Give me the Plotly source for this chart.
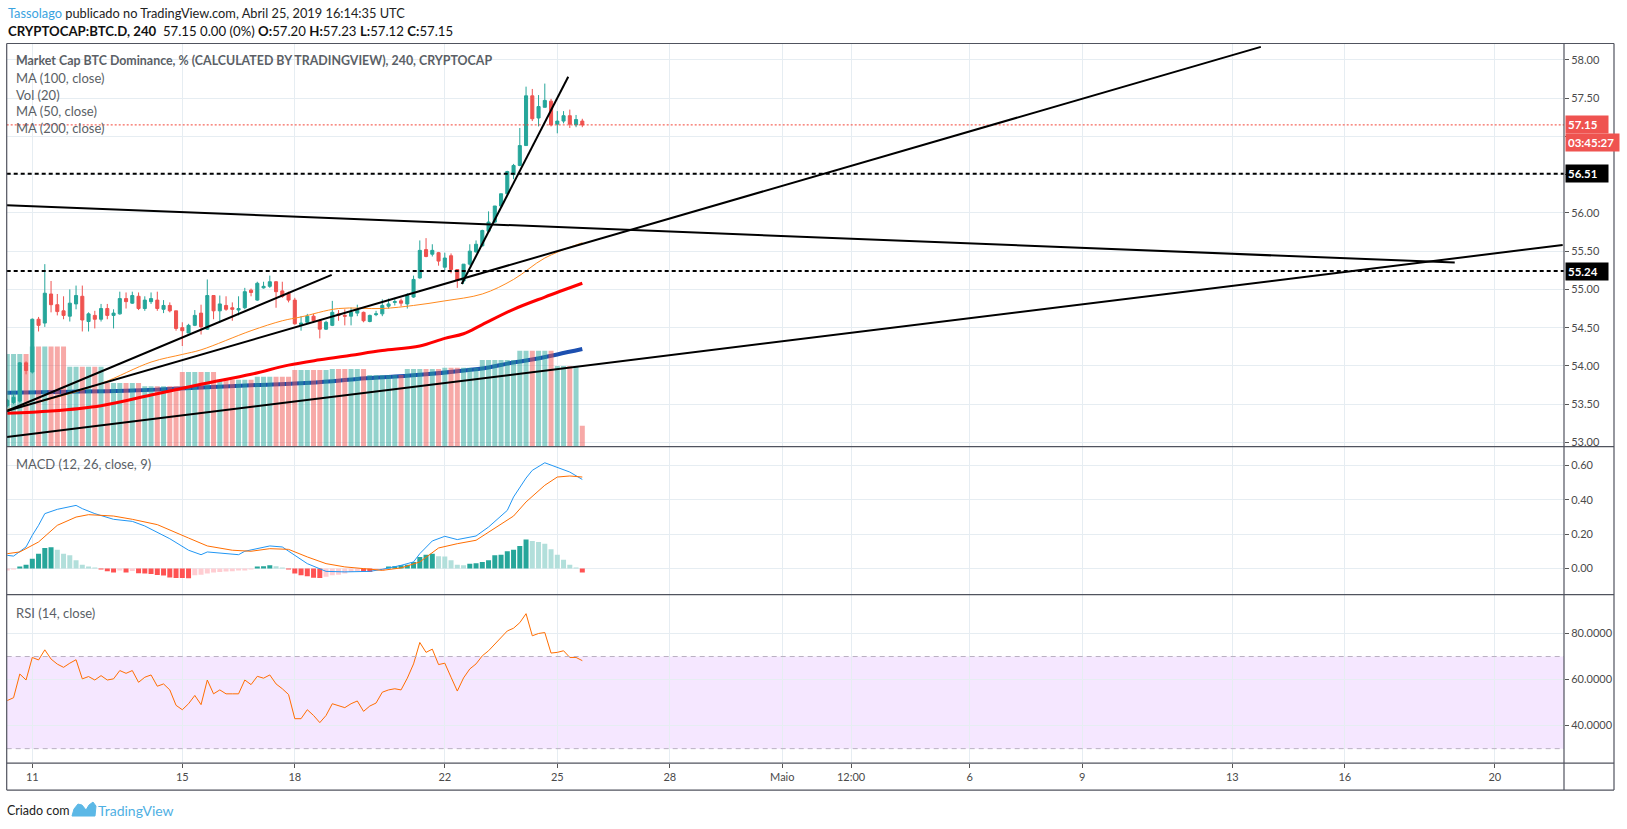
import plotly.graph_objects as go
import pandas as pd

# 4h candles of CRYPTOCAP:BTC.D, first bar 2019-04-10 08:00 UTC
first_bar = "2019-04-10 08:00"
opens = [53.48, 53.52, 53.54, 54.04, 53.92, 54.61, 54.56, 54.94, 54.80, 54.72,
         54.65, 54.81, 54.91, 54.58, 54.66, 54.61, 54.75, 54.66, 54.68, 54.88,
         54.82, 54.91, 54.75, 54.84, 54.86, 54.74, 54.79, 54.72, 54.50, 54.43,
         54.53, 54.69, 54.48, 54.92, 54.72, 54.79, 54.76, 54.73, 54.76, 54.99,
         54.86, 55.02, 55.04, 55.10, 54.98, 54.95, 54.86, 54.54, 54.57, 54.65,
         54.59, 54.48, 54.53, 54.68, 54.66, 54.65, 54.69, 54.70, 54.58, 54.67,
         54.68, 54.78, 54.83, 54.85, 54.81, 54.90, 55.15, 55.52, 55.46, 55.48,
         55.29, 55.44, 55.26, 55.11, 55.33, 55.49, 55.57, 55.76, 55.88, 56.09,
         56.25, 56.50, 56.62, 56.88, 57.53, 57.24, 57.38, 57.46, 57.16, 57.20,
         57.27, 57.15, 57.20]
highs = [53.57, 53.63, 54.05, 54.06, 54.62, 54.64, 55.33, 55.11, 54.94, 54.91,
         55.00, 55.05, 55.05, 54.70, 54.72, 54.81, 54.81, 54.74, 54.97, 54.96,
         54.97, 54.96, 54.91, 54.96, 54.97, 54.86, 54.83, 54.72, 54.57, 54.55,
         54.73, 54.80, 55.13, 54.92, 54.92, 54.91, 54.83, 54.91, 55.02, 55.01,
         55.10, 55.10, 55.18, 55.11, 55.10, 54.97, 54.89, 54.65, 54.68, 54.68,
         54.61, 54.59, 54.85, 54.73, 54.74, 54.76, 54.80, 54.71, 54.67, 54.72,
         54.87, 54.88, 54.89, 54.88, 54.95, 55.18, 55.64, 55.67, 55.59, 55.49,
         55.48, 55.47, 55.26, 55.33, 55.59, 55.64, 55.78, 56.02, 56.09, 56.25,
         56.55, 56.64, 57.11, 57.65, 57.62, 57.54, 57.69, 57.49, 57.33, 57.33,
         57.35, 57.28, 57.23]
lows = [53.46, 53.50, 53.52, 53.89, 53.90, 54.45, 54.51, 54.70, 54.66, 54.61,
        54.58, 54.74, 54.45, 54.45, 54.49, 54.58, 54.61, 54.49, 54.67, 54.75,
        54.81, 54.73, 54.72, 54.81, 54.72, 54.69, 54.70, 54.46, 54.26, 54.43,
        54.52, 54.41, 54.47, 54.61, 54.57, 54.72, 54.59, 54.66, 54.74, 54.91,
        54.85, 55.01, 55.02, 54.76, 54.89, 54.83, 54.54, 54.46, 54.55, 54.56,
        54.36, 54.47, 54.52, 54.59, 54.53, 54.53, 54.65, 54.57, 54.57, 54.65,
        54.65, 54.75, 54.79, 54.78, 54.75, 54.89, 55.14, 55.42, 55.43, 55.31,
        55.25, 55.21, 55.02, 55.07, 55.31, 55.48, 55.56, 55.76, 55.87, 56.08,
        56.24, 56.44, 56.61, 56.88, 57.20, 57.13, 57.38, 57.13, 57.04, 57.17,
        57.11, 57.12, 57.12]
closes = [53.55, 53.59, 54.04, 53.94, 54.61, 54.53, 54.95, 54.80, 54.71, 54.66,
          54.82, 54.92, 54.60, 54.68, 54.61, 54.75, 54.66, 54.69, 54.88, 54.84,
          54.92, 54.75, 54.86, 54.88, 54.75, 54.79, 54.72, 54.49, 54.46, 54.53,
          54.66, 54.51, 54.92, 54.72, 54.81, 54.74, 54.74, 54.75, 54.97, 54.96,
          55.08, 55.04, 55.10, 54.97, 54.91, 54.86, 54.55, 54.56, 54.65, 54.59,
          54.48, 54.57, 54.70, 54.66, 54.65, 54.70, 54.73, 54.59, 54.66, 54.68,
          54.79, 54.81, 54.84, 54.82, 54.92, 55.13, 55.51, 55.43, 55.51, 55.37,
          55.41, 55.26, 55.12, 55.33, 55.50, 55.59, 55.77, 55.88, 56.09, 56.25,
          56.54, 56.62, 56.88, 57.53, 57.23, 57.39, 57.47, 57.15, 57.20, 57.27,
          57.16, 57.22, 57.15]
volumes = [9.27, 9.27, 9.27, 9.27,
           10.04, 10.04, 10.04, 10.04, 10.04, 10.04,
           8.00, 8.00, 8.00, 8.00, 8.00, 8.00,
           6.37, 6.37, 6.37, 6.37, 6.37, 6.37,
           6.04, 6.04, 6.04, 6.04, 6.04, 6.04,
           7.47, 7.47, 7.47, 7.47, 7.47, 7.47,
           6.70, 6.70, 6.70, 6.70, 6.70, 6.70,
           7.00, 7.00, 7.00, 7.00, 7.00, 7.00,
           7.67, 7.67, 7.67, 7.67, 7.67, 7.67,
           7.77, 7.77, 7.77, 7.77, 7.77, 7.77,
           7.17, 7.17, 7.17, 7.17, 7.17, 7.17,
           7.77, 7.77, 7.77, 7.77, 7.77, 7.77,
           7.90, 7.90, 7.90, 7.90, 7.90, 7.90,
           8.67, 8.67, 8.67, 8.67, 8.67, 8.67,
           9.60, 9.60, 9.60, 9.60, 9.60, 9.60,
           8.07, 8.07, 8.07, 8.07,
           2.10]

# moving averages read at a few bars (bar index, value)
ma50_bar = [0, 7, 15, 23, 28, 31, 39, 44, 47, 53, 60, 65, 70, 76, 81, 86, 92]
ma50_val = [53.43, 53.57, 53.77, 54.05, 54.15, 54.21, 54.46, 54.59, 54.64, 54.75,
            54.75, 54.79, 54.85, 54.94, 55.13, 55.41, 55.61]
ma100_bar = [0, 7, 15, 23, 31, 39, 45, 50, 55, 60, 66, 70, 73, 76, 81, 86, 92]
ma100_val = [53.38, 53.41, 53.48, 53.62, 53.76, 53.89, 54.01, 54.08, 54.14, 54.20,
             54.26, 54.36, 54.42, 54.54, 54.74, 54.90, 55.08]
ma200_bar = [0, 8, 16, 24, 32, 40, 46, 52, 56, 62, 67, 72, 77, 80, 83, 88, 92]
ma200_val = [53.65, 53.66, 53.67, 53.69, 53.72, 53.75, 53.77, 53.80, 53.83, 53.86,
             53.89, 53.93, 53.98, 54.03, 54.07, 54.15, 54.22]

# MACD (12, 26, close, 9)
macd_bar = [0, 1, 3, 4, 5, 6, 8, 9, 11, 12, 14, 17, 20, 22, 24, 26, 29, 31, 32, 37,
            38, 42, 44, 47, 48, 51, 54, 58, 60, 63, 65, 66, 68, 70, 72, 75, 77, 80,
            81, 83, 84, 86, 88, 90, 92]
macd_val = [0.077, 0.073, 0.126, 0.194, 0.252, 0.320, 0.345, 0.353, 0.368, 0.349,
            0.320, 0.287, 0.275, 0.248, 0.213, 0.174, 0.107, 0.081, 0.097, 0.081,
            0.101, 0.132, 0.126, 0.054, 0.029, -0.016, -0.019, -0.016, -0.004, 0.019,
            0.039, 0.087, 0.161, 0.188, 0.169, 0.190, 0.242, 0.339, 0.417, 0.527,
            0.572, 0.616, 0.591, 0.562, 0.519]
signal_bar = [0, 2, 5, 8, 11, 13, 17, 20, 24, 26, 29, 32, 36, 39, 42, 45, 48, 51, 54,
              57, 60, 63, 66, 69, 72, 75, 78, 81, 83, 86, 88, 90, 92]
signal_val = [0.087, 0.097, 0.155, 0.252, 0.300, 0.314, 0.306, 0.287, 0.256, 0.223,
              0.178, 0.132, 0.107, 0.101, 0.116, 0.112, 0.068, 0.029, 0.010, 0.000,
              -0.010, 0.004, 0.039, 0.120, 0.145, 0.165, 0.233, 0.306, 0.388, 0.485,
              0.533, 0.539, 0.533]
hist_val = [-0.010, -0.005, 0.012, 0.023, 0.058, 0.087, 0.120, 0.124, 0.110, 0.087,
            0.078, 0.048, 0.023, 0.010, 0.003, -0.004, -0.016, -0.023, -0.010, -0.023,
            -0.014, -0.027, -0.029, -0.031, -0.037, -0.040, -0.052, -0.054, -0.055, -0.056,
            -0.039, -0.035, -0.029, -0.023, -0.019, -0.017, -0.016, -0.010, -0.006, -0.003,
            0.010, 0.014, 0.019, 0.014, 0.002, -0.004, -0.029, -0.039, -0.045, -0.053,
            -0.055, -0.048, -0.039, -0.035, -0.029, -0.019, -0.016, -0.019, -0.020, -0.010,
            -0.006, 0.010, 0.014, 0.019, 0.023, 0.039, 0.068, 0.081, 0.087, 0.072,
            0.070, 0.048, 0.023, 0.019, 0.029, 0.031, 0.039, 0.048, 0.078, 0.081,
            0.101, 0.110, 0.132, 0.169, 0.161, 0.155, 0.145, 0.112, 0.081, 0.052,
            0.023, 0.002, -0.023]

# RSI (14, close)
rsi_val = [50.9, 52.1, 62.4, 59.8, 69.6, 68.5, 72.9, 68.9, 66.7, 65.3,
           67.1, 68.6, 60.3, 61.3, 59.8, 61.7, 59.8, 60.3, 63.9, 62.7,
           63.9, 58.8, 61.0, 62.0, 57.1, 58.1, 55.5, 48.8, 46.9, 49.5,
           53.1, 49.1, 59.8, 53.8, 55.5, 53.8, 53.8, 53.8, 59.8, 57.8,
           61.4, 60.6, 62.0, 58.1, 56.0, 53.5, 43.0, 43.0, 46.9, 44.4,
           41.3, 44.4, 49.5, 48.5, 47.8, 49.5, 50.7, 46.2, 48.5, 49.8,
           54.5, 55.5, 56.0, 55.5, 60.6, 66.8, 76.1, 71.8, 73.2, 66.5,
           67.1, 61.0, 55.0, 60.7, 64.6, 66.8, 70.3, 72.5, 75.4, 78.3,
           81.1, 82.3, 84.7, 88.6, 79.0, 80.0, 80.4, 71.5, 71.8, 72.5,
           69.6, 69.6, 68.2]

# drawn trend lines: (start time, start price, end time, end price)
trend_lines = [
    ("2019-04-10 07:40", 53.07, "2019-05-21 19:26", 55.58),
    ("2019-04-10 07:40", 56.10, "2019-05-18 22:20", 55.35),
    ("2019-04-22 10:48", 55.07, "2019-04-25 07:00", 57.78),
    ("2019-04-10 07:40", 53.41, "2019-04-18 23:36", 55.19),
    ("2019-04-10 07:40", 53.41, "2019-05-13 18:15", 58.17),
]
level_lines = [56.51, 55.24]
last_price = 57.15
countdown = "03:45:27"

price_ticks = [53.0, 53.5, 54.0, 54.5, 55.0, 55.5, 56.0, 56.5, 57.0, 57.5, 58.0]
hidden_ticks = [56.5, 57.0]  # covered by the price tags
macd_ticks = [0.0, 0.2, 0.4, 0.6]
rsi_ticks = [40, 60, 80]
date_ticks = ["2019-04-11", "2019-04-15", "2019-04-18", "2019-04-22", "2019-04-25",
              "2019-04-28", "2019-05-01", "2019-05-02 20:00", "2019-05-06", "2019-05-09",
              "2019-05-13", "2019-05-16", "2019-05-20"]
date_labels = ["11", "15", "18", "22", "25", "28", "Maio", "12:00", "6", "9", "13", "16", "20"]

UP, DOWN = "#26a69a", "#ef5350"
W, H = 1627, 829
FONT = "Lato"


def px(x):
    return x / W


def py(y):
    return 1 - y / H


t0 = pd.Timestamp(first_bar)
times = [t0 + pd.Timedelta(hours=4 * i) for i in range(len(closes))]


def bar_time(idx):
    return [t0 + pd.Timedelta(hours=4 * i) for i in idx]


vol_colors = ["rgba(38,166,154,0.5)" if c >= o else "rgba(239,83,80,0.5)"
              for o, c in zip(opens, closes)]
hist_colors = []
for k, h in enumerate(hist_val):
    prev = hist_val[k - 1] if k else h
    if h >= 0:
        hist_colors.append("#26a69a" if h > prev else "#b2dfdb")
    else:
        hist_colors.append("#ff5252" if h < prev else "#ffcdd2")

fig = go.Figure()

# MA 200 sits under the volume columns
fig.add_trace(go.Scatter(x=bar_time(ma200_bar), y=ma200_val, mode="lines",
                         line=dict(color="#1c4fb0", width=4, shape="spline"),
                         yaxis="y", xaxis="x"))
fig.add_trace(go.Bar(x=times, y=volumes, marker_color=vol_colors, marker_line_width=0,
                     yaxis="y2", xaxis="x"))
fig.add_trace(go.Candlestick(x=times, open=opens, high=highs, low=lows, close=closes,
                             increasing=dict(line=dict(color=UP, width=1), fillcolor=UP),
                             decreasing=dict(line=dict(color=DOWN, width=1), fillcolor=DOWN),
                             whiskerwidth=0, yaxis="y3", xaxis="x"))
fig.add_trace(go.Scatter(x=bar_time(ma100_bar), y=ma100_val, mode="lines",
                         line=dict(color="#ff0000", width=3, shape="spline"),
                         yaxis="y3", xaxis="x"))
fig.add_trace(go.Scatter(x=bar_time(ma50_bar), y=ma50_val, mode="lines",
                         line=dict(color="#ff8a1f", width=1, shape="spline"),
                         yaxis="y3", xaxis="x"))

# MACD panel
fig.add_trace(go.Bar(x=times, y=hist_val, marker_color=hist_colors, marker_line_width=0,
                     yaxis="y4", xaxis="x"))
fig.add_trace(go.Scatter(x=bar_time(macd_bar), y=macd_val, mode="lines",
                         line=dict(color="#2196f3", width=1), yaxis="y4", xaxis="x"))
fig.add_trace(go.Scatter(x=bar_time(signal_bar), y=signal_val, mode="lines",
                         line=dict(color="#ff6d00", width=1), yaxis="y4", xaxis="x"))

# RSI panel
fig.add_trace(go.Scatter(x=times, y=rsi_val, mode="lines",
                         line=dict(color="#ff6d00", width=1), yaxis="y5", xaxis="x"))

grid = "#e6edf2"
tickfont = dict(family=FONT, size=11, color="#4a4a4a")
price_range = [52.945, 58.214]
x_dom = [px(6.7), px(1564)]
main_dom = [py(447.7), py(43.6)]
macd_dom = [py(596), py(447.7)]
rsi_dom = [py(765), py(596)]

yax_common = dict(side="right", anchor="x", ticks="outside", ticklen=4, tickcolor="#555",
                  showgrid=True, gridcolor=grid, zeroline=False, showline=False,
                  tickfont=tickfont, fixedrange=True)

fig.update_layout(
    width=W, height=H, margin=dict(l=0, r=0, t=0, b=0),
    paper_bgcolor="white", plot_bgcolor="white",
    showlegend=False, barmode="overlay", bargap=0.2, hovermode=False,
    xaxis=dict(type="date", domain=x_dom, anchor="y5",
               range=["2019-04-10 07:37", "2019-05-21 20:17"],
               tickvals=date_ticks, ticktext=date_labels,
               ticks="outside", ticklen=4, tickcolor="#555",
               showgrid=True, gridcolor=grid, zeroline=False, showline=False,
               tickfont=tickfont, rangeslider=dict(visible=False), fixedrange=True),
    yaxis=dict(domain=main_dom, range=price_range, tickvals=price_ticks,
               ticktext=["" if v in hidden_ticks else "%.2f" % v for v in price_ticks],
               **yax_common),
    yaxis2=dict(overlaying="y", range=[0, 40.4], visible=False, fixedrange=True),
    yaxis3=dict(overlaying="y", range=price_range, visible=False, fixedrange=True),
    yaxis4=dict(domain=macd_dom, range=[-0.151, 0.71], tickvals=macd_ticks,
                ticktext=["%.2f" % v for v in macd_ticks], **yax_common),
    yaxis5=dict(domain=rsi_dom, range=[23.7, 96.9], tickvals=rsi_ticks,
                ticktext=["%.4f" % v for v in rsi_ticks], **yax_common),
)

shapes = []
# RSI band and bounds
shapes.append(dict(type="rect", xref="x domain", yref="y5", x0=0, x1=1, y0=30, y1=70,
                   fillcolor="rgba(153,21,255,0.1)", line_width=0, layer="below"))
for lv in (70, 30):
    shapes.append(dict(type="line", xref="x domain", yref="y5", x0=0, x1=1, y0=lv, y1=lv,
                       line=dict(color="#b9b0c2", width=1, dash="5px,4px")))
# last price line
shapes.append(dict(type="line", xref="x domain", yref="y", x0=0, x1=1,
                   y0=last_price, y1=last_price,
                   line=dict(color="#f44336", width=1, dash="2px,2px")))
# horizontal levels
for lv in level_lines:
    shapes.append(dict(type="line", xref="x domain", yref="y", x0=0, x1=1, y0=lv, y1=lv,
                       line=dict(color="#000000", width=2, dash="4px,3px")))
# trend lines
for ta, pa, tb, pb in trend_lines:
    shapes.append(dict(type="line", xref="x", yref="y", x0=ta, y0=pa, x1=tb, y1=pb,
                       line=dict(color="#000000", width=2)))

# chart frame and pane separators
frame = "#50535e"
L, R, T, B = 6.7, 1614, 43.6, 792
for yy in (T, 447.7, 596, 765, B):
    shapes.append(dict(type="line", xref="paper", yref="paper", x0=px(L), x1=px(R),
                       y0=py(yy), y1=py(yy), line=dict(color=frame, width=1.2)))
for xx in (L, 1564, R):
    shapes.append(dict(type="line", xref="paper", yref="paper", x0=px(xx), x1=px(xx),
                       y0=py(T), y1=py(B), line=dict(color=frame, width=1.2)))

# TradingView logo mark
logo = [(72, 818), (74, 811), (78, 806), (82, 807), (86, 812), (89, 807), (93, 804),
        (96, 808), (95, 818)]
path = "M " + " L ".join("%.5f,%.5f" % (px(a), py(b)) for a, b in logo) + " Z"
shapes.append(dict(type="path", xref="paper", yref="paper", path=path,
                   fillcolor="#5cb8e6", line=dict(color="#5cb8e6", width=1)))
fig.update_layout(shapes=shapes)

ann = []


def text(x, y, s, size=13, color="#333333"):
    ann.append(dict(xref="paper", yref="paper", x=px(x), y=py(y), text=s, showarrow=False,
                    xanchor="left", yanchor="middle",
                    font=dict(family=FONT, size=size, color=color)))


text(6, 13, "<span style='color:#3ba3df'>Tassolago</span> publicado no TradingView.com, "
     "Abril 25, 2019 16:14:35 UTC", 12.8, "#222222")
text(6, 31, "<b>CRYPTOCAP:BTC.D, 240</b>  57.15 0.00 (0%) <b>O:</b>57.20 <b>H:</b>57.23 "
     "<b>L:</b>57.12 <b>C:</b>57.15", 13.2, "#111111")
text(14, 61, "<b>Market Cap BTC Dominance, % (CALCULATED BY TRADINGVIEW), 240, CRYPTOCAP</b>",
     12.4, "#5b5f66")
for k, s in enumerate(["MA (100, close)", "Vol (20)", "MA (50, close)", "MA (200, close)"]):
    text(14, 78.3 + 16.7 * k, s, 13, "#5b5f66")
text(14, 465, "MACD (12, 26, close, 9)", 13, "#5b5f66")
text(14, 614, "RSI (14, close)", 13, "#5b5f66")
text(5, 812, "Criado com", 12.5, "#222222")
text(96, 812, "TradingView", 14, "#4fb0e3")


def tag(price, s, bg, shift=0, width=38):
    ann.append(dict(xref="paper", yref="y", x=px(1565), y=price, yshift=shift, text="<b>%s</b>" % s,
                    showarrow=False, xanchor="left", yanchor="middle", align="left",
                    width=width, bgcolor=bg, borderpad=2,
                    font=dict(family=FONT, size=11.5, color="white")))


tag(last_price, "%.2f" % last_price, "#ef5350")
tag(last_price, countdown, "#ef5350", shift=-18, width=49)
for lv in level_lines:
    tag(lv, "%.2f" % lv, "#000000")
fig.update_layout(annotations=ann)

fig.write_html("out.html", config={"displayModeBar": False},
               post_script="document.body.style.margin='0px';")
